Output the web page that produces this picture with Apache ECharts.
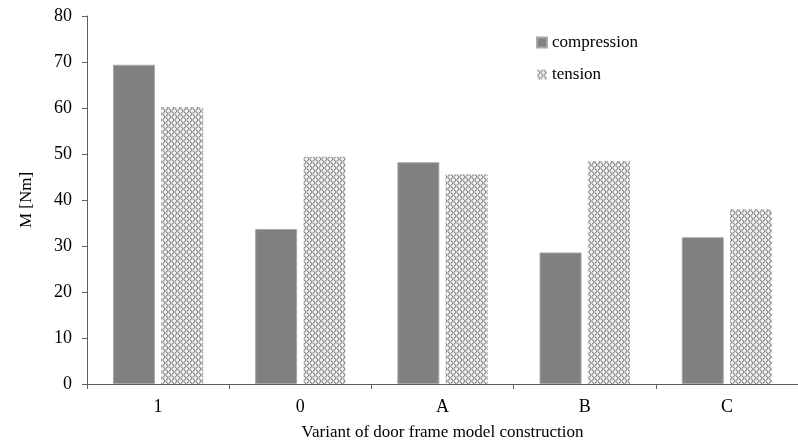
<!DOCTYPE html>
<html><head><meta charset="utf-8">
<script src="https://cdn.jsdelivr.net/npm/echarts@6/dist/echarts.min.js"></script>
<style>html,body{margin:0;padding:0;background:#fff}#c{width:798px;height:446px}</style>
</head><body><div id="c"></div>
<script>
const categories = ['1', '0', 'A', 'B', 'C'];
const compression = [69.4, 33.7, 48.2, 28.6, 31.9];
const tension = [60.2, 49.4, 45.6, 48.5, 38.0];
const yTicks = [0, 10, 20, 30, 40, 50, 60, 70, 80];

function makePattern() {
  const n = 6;
  const c = document.createElement('canvas');
  c.width = n; c.height = n;
  const g = c.getContext('2d');
  g.fillStyle = '#f0f0f0'; g.fillRect(0, 0, n, n);
  g.fillStyle = '#8e8e8e';
  for (let i = 0; i < n; i++) {
    g.fillRect(i, i, 1, 1);
    g.fillRect(n - 1 - i, i, 1, 1);
  }
  g.fillStyle = '#b8b8b8';
  for (let i = 0; i < n; i++) {
    g.fillRect((i + 1) % n, i, 1, 1);
    g.fillRect((n - i) % n, i, 1, 1);
  }
  return c;
}
const pat = { image: makePattern(), repeat: 'repeat' };

const chart = echarts.init(document.getElementById('c'), null, { renderer: 'canvas' });
const font = 'Liberation Serif';
chart.setOption({
  animation: false,
  textStyle: { fontFamily: font, color: '#000' },
  grid: { left: 87, right: -5, top: 16, bottom: 60 },
  legend: {
    orient: 'vertical', left: 531, top: 29, itemGap: 15,
    itemWidth: 10, itemHeight: 10,
    textStyle: { fontFamily: font, fontSize: 17, color: '#000' },
    data: [{ name: 'compression', icon: 'rect' }, { name: 'tension', icon: 'rect' }]
  },
  xAxis: {
    type: 'category', data: categories,
    name: 'Variant of door frame model construction',
    nameLocation: 'middle', nameGap: 40,
    nameTextStyle: { fontFamily: font, fontSize: 17, color: '#000' },
    axisLine: { lineStyle: { color: '#606060', width: 1 } },
    axisTick: { show: true, length: 5, lineStyle: { color: '#606060' } },
    axisLabel: { fontFamily: font, fontSize: 18, color: '#000', margin: 14 }
  },
  yAxis: {
    type: 'value', min: yTicks[0], max: yTicks[yTicks.length - 1], interval: 10,
    name: 'M [Nm]', nameLocation: 'middle', nameGap: 52,
    nameTextStyle: { fontFamily: font, fontSize: 17, color: '#000' },
    axisLine: { show: true, lineStyle: { color: '#606060', width: 1 } },
    axisTick: { show: true, length: 5, lineStyle: { color: '#606060' } },
    axisLabel: { fontFamily: font, fontSize: 18, color: '#000', margin: 15 },
    splitLine: { show: false }
  },
  series: [
    { name: 'compression', type: 'bar', data: compression, barWidth: 42, barGap: '15%',
      itemStyle: { color: '#808080', borderColor: '#a8a8a8', borderWidth: 1 } },
    { name: 'tension', type: 'bar', data: tension, barWidth: 42,
      itemStyle: { color: pat, borderWidth: 0 } }
  ]
});
</script></body></html>
